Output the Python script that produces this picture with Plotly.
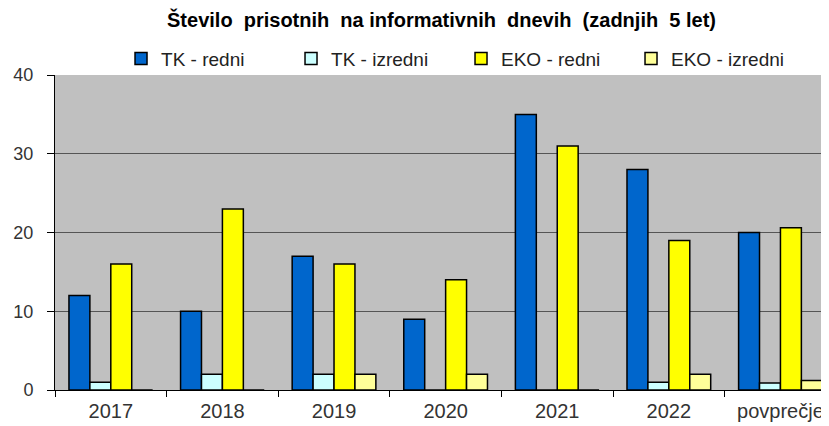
import plotly.graph_objects as go

categories = ["2017", "2018", "2019", "2020", "2021", "2022", "povprečje"]
tk_redni = [12, 10, 17, 9, 35, 28, 20.0]
tk_izredni = [1, 2, 2, 0, 0, 1, 0.9]
eko_redni = [16, 23, 16, 14, 31, 19, 20.6]
eko_izredni = [0, 0, 2, 2, 0, 2, 1.2]

series = [
    ("TK - redni", tk_redni, "#0066CC"),
    ("TK - izredni", tk_izredni, "#CCFFFF"),
    ("EKO - redni", eko_redni, "#FFFF00"),
    ("EKO - izredni", eko_izredni, "#FFFF99"),
]

title_text = ("Število\u00a0\u00a0prisotnih\u00a0\u00a0na informativnih\u00a0\u00a0"
              "dnevih\u00a0\u00a0(zadnjih\u00a0\u00a05 let)")

fig = go.Figure()
for name, vals, col in series:
    fig.add_trace(go.Bar(
        x=categories, y=vals, name=name,
        marker=dict(color=col, line=dict(color="black", width=1.5)),
    ))

font = "Liberation Sans, Arial, sans-serif"
fig.update_layout(
    width=821, height=418,
    margin=dict(l=47, r=0, t=67, b=36),
    paper_bgcolor="white",
    plot_bgcolor="#C0C0C0",
    barmode="group", bargap=0.25, bargroupgap=0,
    title=dict(text="<b>" + title_text + "</b>",
               x=0.528, xanchor="center", y=0.971, yanchor="middle",
               font=dict(family=font, size=20, color="black")),
    legend=dict(orientation="h", x=0.0853, xanchor="left", y=1.052, yanchor="middle",
                font=dict(family=font, size=19, color="#222"),
                entrywidth=125, entrywidthmode="pixels", itemwidth=30,
                bgcolor="rgba(0,0,0,0)", borderwidth=0),
    showlegend=True,
    xaxis=dict(range=[-0.5, 6.435], tickson="boundaries", ticks="outside", ticklen=6,
               tickcolor="black", showline=True, linecolor="black", linewidth=1,
               ticklabelstandoff=3,
               tickfont=dict(family=font, size=20, color="#333"), showgrid=False),
    yaxis=dict(range=[0, 40], dtick=10, ticks="outside", ticklen=7, tickcolor="black",
               showline=True, linecolor="black", linewidth=1,
               showgrid=True, gridcolor="#555555", gridwidth=1, zeroline=False,
               ticklabelstandoff=10,
               tickfont=dict(family=font, size=18, color="#333")),
)

fig.write_html("out.html")
